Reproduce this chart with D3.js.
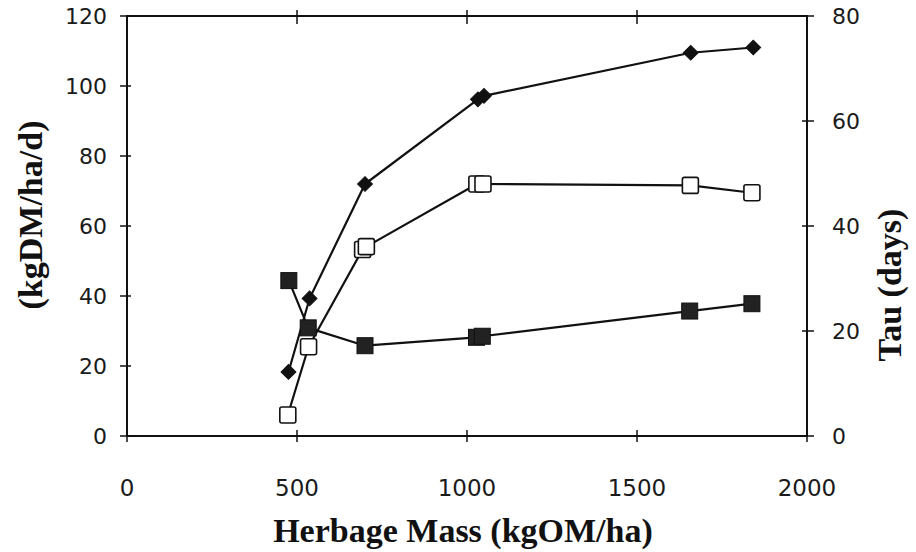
<!DOCTYPE html>
<html>
<head>
<meta charset="utf-8">
<script src="https://cdn.jsdelivr.net/npm/d3@7"></script>
<style>
  body { margin: 0; background: #fff; }
  svg { display: block; }
  .tick-label { font-family: "DejaVu Sans", sans-serif; fill: #1a1a1a; }
  .title { font-family: "Liberation Serif", "Times New Roman", serif; font-weight: bold; fill: #111; }
</style>
</head>
<body>
<svg id="chart" width="916" height="552"></svg>
<script>
// ---- data ----
const herbageGross = [475, 537, 700, 1032, 1050, 1658, 1842];
const growthGross  = [18.3, 39.3, 72, 96.2, 97.2, 109.5, 111];

const herbageNet = [473, 534, 693, 704, 1029, 1047, 1657, 1838];
const growthNet  = [6, 25.5, 53.3, 54.1, 72, 72, 71.6, 69.5];

const herbageTau = [476, 533, 700, 1028, 1045, 1655, 1838];
const tauDays    = [29.6, 20.6, 17.2, 18.8, 19.0, 23.8, 25.2];

const xTicks = [0, 500, 1000, 1500, 2000];
const yLeftTicks = [0, 20, 40, 60, 80, 100, 120];
const yRightTicks = [0, 20, 40, 60, 80];

const xTitle = "Herbage Mass (kgOM/ha)";
const yLeftTitle = "(kgDM/ha/d)";
const yRightTitle = "Tau (days)";

(function () {
const svg = d3.select("#chart");
const pL = 127, pR = 807, pT = 16, pB = 436;

const x = d3.scaleLinear().domain([0, 2000]).range([pL, pR]);
const yL = d3.scaleLinear().domain([0, 120]).range([pB, pT]);
const yR = d3.scaleLinear().domain([0, 80]).range([pB, pT]);

const ink = "#111";

// frame
svg.append("rect")
  .attr("x", pL).attr("y", pT)
  .attr("width", pR - pL).attr("height", pB - pT)
  .attr("fill", "none").attr("stroke", ink).attr("stroke-width", 2);

// left ticks (crossing)
svg.append("g").selectAll("line").data(yLeftTicks).join("line")
  .attr("x1", pL - 7).attr("x2", pL + 4)
  .attr("y1", d => yL(d)).attr("y2", d => yL(d))
  .attr("stroke", ink).attr("stroke-width", 1.5);
svg.append("g").selectAll("text").data(yLeftTicks).join("text")
  .attr("class", "tick-label")
  .attr("x", pL - 20).attr("y", d => yL(d))
  .attr("dy", "0.36em").attr("text-anchor", "end")
  .attr("font-size", 22)
  .text(d => d);

// right ticks
svg.append("g").selectAll("line").data(yRightTicks).join("line")
  .attr("x1", pR - 5).attr("x2", pR + 7)
  .attr("y1", d => yR(d)).attr("y2", d => yR(d))
  .attr("stroke", ink).attr("stroke-width", 1.5);
svg.append("g").selectAll("text").data(yRightTicks).join("text")
  .attr("class", "tick-label")
  .attr("x", pR + 25).attr("y", d => yR(d))
  .attr("dy", "0.36em").attr("text-anchor", "start")
  .attr("font-size", 22)
  .text(d => d);

// bottom ticks
svg.append("g").selectAll("line").data(xTicks).join("line")
  .attr("x1", d => x(d)).attr("x2", d => x(d))
  .attr("y1", pB - 6).attr("y2", pB + 6)
  .attr("stroke", ink).attr("stroke-width", 1.5);
svg.append("g").selectAll("text").data(xTicks).join("text")
  .attr("class", "tick-label")
  .attr("x", d => x(d)).attr("y", pB + 60)
  .attr("text-anchor", "middle")
  .attr("font-size", 23)
  .text(d => d);

// top ticks
svg.append("g").selectAll("line").data(xTicks.slice(1, -1)).join("line")
  .attr("x1", d => x(d)).attr("x2", d => x(d))
  .attr("y1", pT - 6).attr("y2", pT + 8)
  .attr("stroke", ink).attr("stroke-width", 1.5);

// titles
svg.append("text").attr("class", "title")
  .attr("x", 463).attr("y", 542)
  .attr("text-anchor", "middle").attr("font-size", 34)
  .text(xTitle);
svg.append("text").attr("class", "title")
  .attr("transform", `translate(42,215) rotate(-90)`)
  .attr("text-anchor", "middle").attr("font-size", 34)
  .text(yLeftTitle);
svg.append("text").attr("class", "title")
  .attr("transform", `translate(901,285) rotate(-90)`)
  .attr("text-anchor", "middle").attr("font-size", 34)
  .text(yRightTitle);

// ---- series ----
const gross = herbageGross.map((h, i) => [h, growthGross[i]]);
const net = herbageNet.map((h, i) => [h, growthNet[i]]);
const tau = herbageTau.map((h, i) => [h, tauDays[i]]);

const lineL = d3.line().x(d => x(d[0])).y(d => yL(d[1]));
const lineR = d3.line().x(d => x(d[0])).y(d => yR(d[1]));

[[tau, lineR], [gross, lineL], [net, lineL]].forEach(([data, gen]) => {
  svg.append("path").attr("d", gen(data))
    .attr("fill", "none").attr("stroke", ink).attr("stroke-width", 2.2)
    .attr("stroke-linejoin", "round");
});

// filled squares (tau)
const sq = 16;
svg.append("g").selectAll("rect").data(tau).join("rect")
  .attr("x", d => x(d[0]) - sq / 2).attr("y", d => yR(d[1]) - sq / 2)
  .attr("width", sq).attr("height", sq)
  .attr("fill", "#222").attr("stroke", ink).attr("stroke-width", 1);

// diamonds (gross)
const diamond = d3.symbol().type(d3.symbolSquare).size(110);
svg.append("g").selectAll("path").data(gross).join("path")
  .attr("d", diamond)
  .attr("transform", d => `translate(${x(d[0])},${yL(d[1])}) rotate(45)`)
  .attr("fill", "#111").attr("stroke", ink).attr("stroke-width", 1);

// open squares (net)
const osq = 16;
svg.append("g").selectAll("rect").data(net).join("rect")
  .attr("x", d => x(d[0]) - osq / 2).attr("y", d => yL(d[1]) - osq / 2)
  .attr("width", osq).attr("height", osq).attr("rx", 2)
  .attr("fill", "#fff").attr("stroke", ink).attr("stroke-width", 1.6);
})();
</script>
</body>
</html>
